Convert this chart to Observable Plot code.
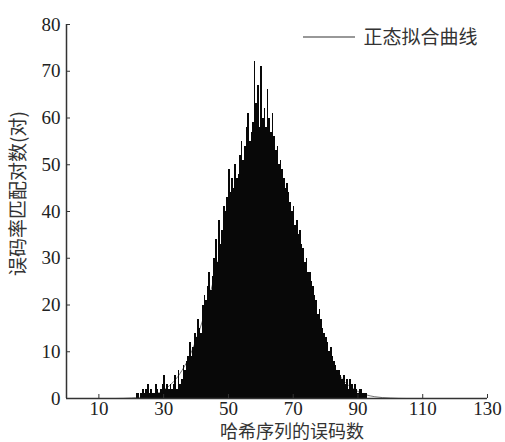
<!DOCTYPE html>
<html>
<head>
<meta charset="utf-8">
<script src="https://cdn.jsdelivr.net/npm/d3@7"></script>
<script src="https://cdn.jsdelivr.net/npm/@observablehq/plot@0.6"></script>
<style>
  html, body { margin: 0; padding: 0; background: #fff; overflow: hidden; }
  #chart { position: relative; width: 505px; height: 442px; }
  #chart .cjk { font-family: "Noto Sans CJK SC", sans-serif; }
</style>
</head>
<body>
<div id="chart"></div>
<script>
// Histogram bins (left edge, width 0.5) and counts
const binLeft = [21,21.5,22,22.5,23,23.5,24,24.5,25,25.5,26,26.5,27,27.5,28,28.5,29,29.5,30,30.5,
  31,31.5,32,32.5,33,33.5,34,34.5,35,35.5,36,36.5,37,37.5,38,38.5,39,39.5,40,40.5,
  41,41.5,42,42.5,43,43.5,44,44.5,45,45.5,46,46.5,47,47.5,48,48.5,49,49.5,50,50.5,
  51,51.5,52,52.5,53,53.5,54,54.5,55,55.5,56,56.5,57,57.5,58,58.5,59,59.5,60,60.5,
  61,61.5,62,62.5,63,63.5,64,64.5,65,65.5,66,66.5,67,67.5,68,68.5,69,69.5,70,70.5,
  71,71.5,72,72.5,73,73.5,74,74.5,75,75.5,76,76.5,77,77.5,78,78.5,79,79.5,80,80.5,
  81,81.5,82,82.5,83,83.5,84,84.5,85,85.5,86,86.5,87,87.5,88,88.5,89,89.5,90,90.5,
  91,91.5,92,92.5];
const counts = [0,1,1,0,1,2,1,2,3,1,2,1,1,3,2,1,2,3,5,2,
  3,2,3,2,3,5,2,6,3,4,7,6,8,9,12,9,11,14,13,17,
  15,14,20,22,21,24,27,23,26,30,34,29,38,33,36,41,40,43,49,44,
  47,45,50,47,48,52,55,51,54,58,61,55,57,59,72,63,67,58,71,60,
  62,58,66,60,57,61,56,53,54,50,51,49,47,45,46,44,42,40,41,37,
  38,35,36,33,32,29,30,27,27,25,24,22,21,18,19,17,15,14,13,12,
  10,11,9,8,7,6,6,5,4,5,3,4,2,4,3,2,3,2,1,2,
  2,1,1,1];
const binWidth = 0.5;

// Normal fit curve
const fitX = [10,15,20,25,30,35,37.5,40,42.5,45,47.5,50,52.5,55,57.5,60,62.5,65,67.5,70,72.5,75,77.5,80,82.5,85,90,95,100,105,110];
const fitY = [0,0,0.1,0.5,1.8,5.3,8.3,12.5,17.8,24.2,31.3,38.7,45.4,50.8,54.1,55,53.1,48.9,42.8,35.8,28.4,21.5,15.5,10.7,6.9,4.3,1.5,0.4,0.1,0,0];

const xTicks = [10,30,50,70,90,110,130];
const yTicks = [0,10,20,30,40,50,60,70,80];
const xLabel = "哈希序列的误码数";
const yLabel = "误码率匹配对数(对)";
const legendLabel = "正态拟合曲线";

const bars = binLeft.map((x, i) => ({x1: x, x2: x + binWidth, y: counts[i]}));
const fit = fitX.map((x, i) => ({x, y: fitY[i]}));

const serif = "Liberation Serif, DejaVu Serif, serif";

const plot = Plot.plot({
  width: 505,
  height: 442,
  marginLeft: 66,
  marginRight: 18,
  marginTop: 24,
  marginBottom: 44,
  style: {fontSize: "19px", fontFamily: serif, color: "#222", background: "#fff"},
  x: {domain: [0, 130], ticks: xTicks},
  y: {domain: [0, 80], ticks: yTicks},
  marks: [
    Plot.line(fit, {x: "x", y: "y", stroke: "#777", strokeWidth: 1, curve: "monotone-x"}),
    Plot.rectY(bars, {x1: "x1", x2: "x2", y: "y", fill: "#080808", inset: 0, shapeRendering: "crispEdges"}),
    Plot.ruleX([0], {stroke: "#333", strokeWidth: 1.5}),
    Plot.ruleY([0], {stroke: "#333", strokeWidth: 1.5}),
    Plot.axisX({ticks: xTicks, tickSize: -4, tickPadding: 7, label: null, stroke: "#333", fontSize: 19, fontFamily: serif, fill: "#222"}),
    Plot.axisY({ticks: yTicks, tickSize: -4, tickPadding: 10, label: null, stroke: "#333", fontSize: 19, fontFamily: serif, fill: "#222"}),
    Plot.text([xLabel], {frameAnchor: "bottom", lineAnchor: "middle", textAnchor: "middle", dx: 15, dy: 34, fontSize: 18, fill: "#333", className: "cjk"}),
    Plot.text([yLabel], {frameAnchor: "left", lineAnchor: "middle", textAnchor: "middle", rotate: -90, dx: -48, dy: -18, fontSize: 19, fill: "#333", className: "cjk"}),
    Plot.text([legendLabel], {frameAnchor: "top-right", lineAnchor: "middle", textAnchor: "end", dx: -10, dy: 13, fontSize: 19, fill: "#333", className: "cjk"})
  ]
});
document.getElementById("chart").appendChild(plot);

// legend line sample next to the legend text
const svg = d3.select(plot);
svg.append("line")
  .attr("x1", 303).attr("x2", 355)
  .attr("y1", 37).attr("y2", 37)
  .attr("stroke", "#333").attr("stroke-width", 1.2);
</script>
</body>
</html>
